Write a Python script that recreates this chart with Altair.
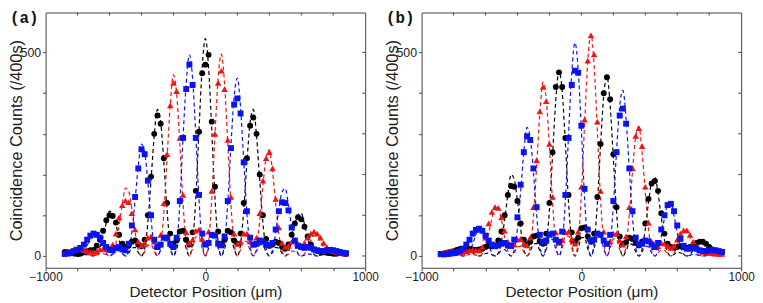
import altair as alt
import pandas as pd

# Detector positions (um)
X = list(range(-880, 881, 20))

# ---------- panel (a) ----------
A_BLACK_FIT = [8, 7, 4, 1, 0, 1, 3, 3, 2, 0,
               4, 19, 47, 82, 110, 106, 79, 40, 11, 0,
               7, 19, 21, 9, 0, 18, 82, 187, 296, 360,
               329, 231, 113, 28, 0, 17, 43, 44, 18, 0,
               34, 143, 309, 463, 534, 463, 309, 143, 34, 0,
               18, 44, 43, 17, 0, 28, 113, 231, 329, 360,
               296, 187, 82, 18, 0, 9, 21, 19, 7, 0,
               11, 40, 79, 101, 105, 78, 45, 18, 4, 0,
               2, 3, 3, 1, 0, 1, 4, 7, 8]
A_BLACK_PTS = [10, 9, 8, 6, 5, 6, 9, 12, 14, 15,
               25, 40, 62, 88, 100, 98, 82, 52, 30, 22,
               25, 35, 38, 28, 24, 40, 100, 195, 300, 345,
               325, 240, 130, 55, 30, 38, 60, 62, 40, 28,
               58, 160, 305, 449, 470, 494, 330, 170, 60, 30,
               40, 62, 58, 38, 30, 55, 130, 240, 320, 340,
               300, 200, 100, 42, 25, 28, 35, 32, 22, 18,
               28, 52, 80, 95, 90, 72, 48, 28, 16, 12,
               10, 9, 8, 7, 6, 6, 7, 6, 5]
A_BLUE_FIT = [0, 1, 2, 1, 0, 2, 10, 25, 44, 60,
              59, 45, 24, 6, 0, 4, 12, 14, 6, 0,
              13, 59, 137, 221, 275, 255, 181, 90, 23, 0,
              14, 36, 38, 16, 0, 30, 127, 290, 423, 494,
              436, 296, 140, 33, 0, 19, 47, 46, 18, 0,
              32, 130, 271, 392, 437, 365, 234, 104, 24, 0,
              12, 28, 26, 10, 0, 15, 58, 115, 158, 166,
              124, 71, 28, 6, 0, 2, 5, 4, 1, 0,
              2, 6, 10, 13, 12, 9, 5, 2, 0]
A_BLUE_PTS = [5, 6, 8, 12, 15, 20, 28, 40, 50, 55,
              52, 45, 32, 22, 15, 14, 20, 22, 16, 14,
              30, 75, 145, 215, 262, 250, 185, 100, 40, 22,
              28, 45, 45, 30, 22, 45, 135, 290, 410, 470,
              420, 290, 150, 55, 28, 32, 52, 50, 30, 26,
              48, 135, 265, 372, 387, 350, 230, 110, 45, 28,
              30, 38, 35, 28, 26, 32, 65, 110, 132, 130,
              112, 70, 38, 25, 22, 20, 22, 20, 16, 14,
              12, 12, 14, 15, 14, 12, 10, 8, 7]
A_RED_FIT = [1, 3, 7, 11, 15, 16, 13, 7, 2, 0,
             2, 5, 5, 3, 0, 6, 30, 74, 127, 167,
             159, 116, 59, 15, 0, 10, 26, 28, 12, 0,
             24, 106, 238, 371, 445, 399, 275, 132, 32, 0,
             19, 47, 47, 19, 0, 34, 141, 298, 438, 496,
             423, 278, 126, 29, 0, 15, 37, 35, 13, 0,
             22, 86, 173, 242, 261, 208, 128, 54, 12, 0,
             5, 12, 11, 4, 0, 5, 20, 38, 50, 50,
             37, 21, 8, 2, 0, 1, 1, 1, 0]
A_RED_PTS = [8, 10, 14, 18, 20, 18, 15, 12, 10, 10,
             12, 16, 18, 16, 18, 28, 55, 95, 125, 136,
             132, 105, 65, 35, 26, 32, 45, 48, 35, 28,
             52, 130, 250, 370, 425, 405, 290, 150, 58, 32,
             40, 62, 65, 42, 30, 60, 160, 300, 425, 455,
             410, 285, 145, 55, 30, 35, 55, 55, 36, 28,
             45, 105, 185, 240, 255, 215, 140, 70, 32, 22,
             25, 35, 38, 30, 25, 32, 45, 55, 60, 55,
             45, 32, 22, 15, 12, 10, 8, 7, 6]

# ---------- panel (b) ----------
B_BLACK_FIT = [1, 0, 0, 1, 3, 8, 13, 18, 19, 15,
               8, 2, 0, 2, 6, 7, 3, 0, 7, 36,
               89, 151, 200, 188, 136, 68, 17, 0, 11, 29,
               31, 13, 0, 26, 112, 249, 383, 455, 404, 276,
               131, 32, 0, 18, 45, 45, 18, 0, 31, 129,
               271, 394, 442, 372, 241, 109, 25, 0, 13, 30,
               28, 11, 0, 17, 66, 131, 181, 193, 154, 95,
               40, 9, 0, 4, 9, 8, 3, 0, 4, 15,
               29, 38, 38, 27, 14, 5, 1, 0, 0]
B_BLACK_PTS = [5, 6, 8, 10, 12, 15, 17, 18, 18, 17,
               16, 15, 16, 18, 22, 25, 24, 25, 38, 60,
               100, 150, 172, 170, 135, 80, 40, 28, 35, 48,
               50, 36, 30, 55, 130, 255, 415, 451, 415, 290,
               150, 58, 36, 45, 68, 70, 48, 35, 55, 145,
               275, 400, 439, 385, 250, 120, 48, 30, 34, 45,
               42, 32, 26, 35, 80, 140, 178, 184, 160, 105,
               55, 30, 22, 20, 22, 24, 22, 20, 22, 26,
               32, 35, 35, 30, 22, 16, 12, 10, 9]
B_BLUE_FIT = [2, 1, 0, 0, 1, 2, 1, 0, 2, 11,
              29, 52, 72, 71, 53, 28, 8, 0, 5, 14,
              16, 7, 0, 15, 68, 158, 255, 316, 291, 206,
              101, 25, 0, 16, 40, 41, 17, 0, 32, 137,
              299, 451, 524, 458, 309, 144, 34, 0, 19, 47,
              46, 18, 0, 30, 124, 257, 368, 407, 336, 214,
              94, 21, 0, 10, 24, 22, 8, 0, 13, 48,
              93, 127, 132, 99, 57, 23, 5, 0, 2, 4,
              3, 1, 0, 1, 5, 9, 11, 10, 8]
B_BLUE_PTS = [5, 4, 5, 6, 7, 9, 12, 18, 28, 40,
              55, 64, 67, 62, 50, 38, 28, 24, 26, 30,
              32, 26, 25, 40, 95, 175, 255, 294, 285, 215,
              120, 52, 35, 38, 52, 55, 40, 35, 60, 150,
              290, 420, 455, 450, 320, 165, 65, 38, 40, 55,
              52, 38, 30, 52, 135, 255, 345, 362, 325, 215,
              110, 45, 28, 30, 38, 36, 28, 22, 32, 65,
              100, 125, 128, 110, 75, 42, 25, 18, 18, 20,
              18, 14, 12, 12, 14, 15, 14, 12, 10]
B_RED_FIT = [5, 9, 12, 13, 10, 6, 2, 0, 1, 4,
             4, 2, 0, 5, 22, 55, 93, 122, 118, 88,
             45, 12, 0, 8, 22, 24, 10, 0, 21, 96,
             220, 350, 427, 386, 269, 130, 32, 0, 19, 48,
             49, 20, 0, 36, 151, 322, 477, 545, 468, 309,
             142, 33, 0, 18, 42, 41, 16, 0, 26, 103,
             208, 293, 318, 255, 157, 67, 15, 0, 7, 15,
             14, 5, 0, 7, 26, 49, 64, 65, 47, 26,
             10, 2, 0, 1, 2, 1, 0, 0, 1]
B_RED_PTS = [4, 7, 10, 12, 12, 10, 10, 10, 12, 14,
             15, 14, 14, 22, 45, 80, 108, 120, 118, 95,
             62, 35, 24, 28, 40, 42, 30, 26, 45, 120,
             235, 355, 415, 380, 275, 145, 58, 32, 38, 58,
             60, 42, 30, 60, 170, 335, 480, 542, 495, 330,
             160, 60, 30, 36, 55, 55, 38, 28, 48, 120,
             215, 295, 314, 270, 170, 82, 35, 22, 24, 32,
             30, 25, 20, 25, 40, 55, 63, 63, 52, 35,
             22, 14, 10, 8, 8, 7, 6, 5, 5]

X_TICKS = [-1000, -800, -600, -400, -200, 0, 200, 400, 600, 800, 1000]
Y_TICKS = [0, 100, 200, 300, 400, 500]
TOP_TICKS = [-800, -600, -400, -200, 0, 200, 400, 600, 800]
RIGHT_TICKS = [0, 100, 200, 300, 400, 500]

W, H = 323, 258
FRAME = "#444444"
COL = {"black": "#000000", "blue": "#0a14f0", "red": "#f01414"}

xs = alt.Scale(domain=[-1000, 1000], nice=False, zero=False)
ys = alt.Scale(domain=[-29, 598], nice=False, zero=False)
xaxis = alt.Axis(values=X_TICKS, format="d", labelFlush=False, labelOverlap=False,
                 labelExpr="datum.value % 1000 == 0 ? datum.label : ''",
                 title="Detector Position (\u03bcm)", titleY=29, titleBaseline="alphabetic",
                 tickSize=3, labelPadding=1, labelFontSize=12)
yaxis = alt.Axis(values=Y_TICKS, format="d", labelOverlap=False,
                 labelExpr="datum.value % 500 == 0 ? datum.label : ''",
                 title="Coincidence Counts (/400s)", titleX=-24, titleBaseline="alphabetic",
                 titleFontSize=16.5, tickSize=3, labelPadding=2)


def enc(chart):
    return chart.encode(x=alt.X("x:Q", scale=xs, axis=xaxis),
                        y=alt.Y("y:Q", scale=ys, axis=yaxis))


def panel(label, black_fit, blue_fit, red_fit, black_pts, blue_pts, red_pts):
    layers = []
    for name, vals in (("black", black_fit), ("red", red_fit), ("blue", blue_fit)):
        df = pd.DataFrame({"x": X, "y": vals})
        layers.append(enc(alt.Chart(df).mark_line(
            color=COL[name], strokeWidth=1.2, strokeDash=[4, 3], interpolate="monotone")))
    for name, vals, shape, size in (("black", black_pts, "circle", 36),
                                    ("red", red_pts, "triangle-up", 44),
                                    ("blue", blue_pts, "square", 36)):
        df = pd.DataFrame({"x": X, "y": vals})
        layers.append(enc(alt.Chart(df).mark_point(
            shape=shape, size=size, filled=True, opacity=1, color=COL[name])))
    top = alt.Chart(pd.DataFrame({"x": TOP_TICKS})).mark_rule(
        color=FRAME, strokeWidth=1).encode(
        x=alt.X("x:Q", scale=xs, axis=xaxis), y=alt.value(0), y2=alt.value(3))
    right = alt.Chart(pd.DataFrame({"y": RIGHT_TICKS})).mark_rule(
        color=FRAME, strokeWidth=1).encode(
        y=alt.Y("y:Q", scale=ys, axis=yaxis), x=alt.value(W - 3), x2=alt.value(W))
    txt = alt.Chart(pd.DataFrame({"t": [label]})).mark_text(
        font="Liberation Mono", fontWeight="bold", fontSize=16, align="left",
        baseline="middle", color="#111111").encode(
        text="t:N", x=alt.value(-36), y=alt.value(6))
    layers += [top, right, txt]
    return alt.layer(*layers).properties(width=W, height=H)


pa = panel("(a)", A_BLACK_FIT, A_BLUE_FIT, A_RED_FIT, A_BLACK_PTS, A_BLUE_PTS, A_RED_PTS)
pb = panel("(b)", B_BLACK_FIT, B_BLUE_FIT, B_RED_FIT, B_BLACK_PTS, B_BLUE_PTS, B_RED_PTS)

chart = alt.hconcat(pa, pb, spacing=57, bounds="flush").properties(
    padding={"left": 0, "top": 0, "right": 0, "bottom": 0}
).configure_view(stroke=FRAME, strokeWidth=1).configure_axis(
    labelFont="Liberation Sans", titleFont="Liberation Sans",
    labelFontSize=12.5, titleFontSize=15.5, labelColor="#222222", titleColor="#222222",
    titleFontWeight="normal", grid=False, domain=False, tickColor=FRAME)

chart.save("out.html", embed_options={"renderer": "svg", "actions": False})
